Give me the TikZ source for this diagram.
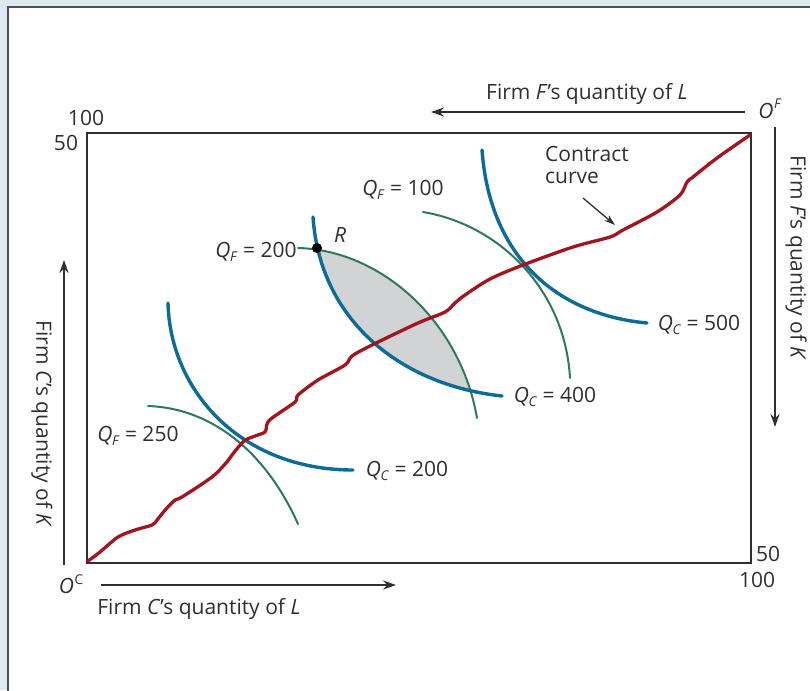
\documentclass[tikz,border=0pt]{standalone}
\usepackage{fontspec}
\setmainfont{Open Sans}
\usetikzlibrary{arrows.meta}
\definecolor{bgc}{HTML}{DFE9EF}
\definecolor{framec}{HTML}{4A4F52}
\definecolor{ink}{HTML}{2F2F2F}
\definecolor{ccred}{HTML}{A3141E}
\definecolor{qcblue}{HTML}{0C6B97}
\definecolor{qfgreen}{HTML}{2E7A58}
\definecolor{lens}{HTML}{D2D3D5}
\newcommand\Qlab[2]{\textit{Q}\kern-0.5pt\raisebox{-0.35ex}{\fontsize{13.5}{12}\selectfont\textit{#1}} = #2}
\newcommand\Orig[1]{\textit{O}\kern0.5pt\raisebox{0.85ex}{\fontsize{13.5}{12}\selectfont #1}}
\tikzset{
  lab/.style={text=ink, font=\fontsize{21}{25}\selectfont, inner sep=0pt},
  axisarrow/.style={draw=ink, line width=2.6pt, -{Stealth[length=13pt,width=9pt]}},
  ccurve/.style={draw=ccred, line width=3.3pt, line cap=round, line join=round},
  qc/.style={draw=qcblue, line width=3.4pt, line cap=round},
  qf/.style={draw=qfgreen, line width=2pt, line cap=round},
}
\begin{document}
\begin{tikzpicture}[x=1pt,y=-1pt]
\useasboundingbox (0,0) rectangle (810,690);
\fill[bgc] (0,0) rectangle (810,690);
\fill[white] (8,7) rectangle (815,695);
\draw[framec, line width=1.3pt] (8,695) -- (8,7) -- (815,7);

% lens fill
\begin{scope}
\clip (298,248) .. controls (380,250) and (460,320) .. (477,418) -- (477,520) -- (200,520) -- (200,248) -- cycle;
\fill[lens] (313,217) .. controls (320,320) and (400,385) .. (502,396) -- (620,396) -- (620,150) -- (313,150) -- cycle;
\end{scope}

% box
\draw[ink, line width=1.5pt] (87,133) rectangle (751,563);

% isoquants
\draw[qf] (298,248) .. controls (380,250) and (460,320) .. (477,418);
\draw[qc] (313,217) .. controls (320,320) and (400,385) .. (502,396);

\draw[qc] (168,303) .. controls (170,390) and (240,470) .. (353,470);
\draw[qf] (148,406) .. controls (210,408) and (265,450) .. (298,524);

\draw[qf] (423,212) .. controls (500,225) and (565,290) .. (570,378);
\draw[qc] (482,150) .. controls (490,260) and (560,315) .. (647,323);

% contract curve
\draw[ccurve] plot[smooth, tension=0.5] coordinates {(88,561) (100,552) (118,537) (135,530) (152,525) (157,520) (166,509) (175,500) (182,497) (212,477) (226,463) (232,455) (244,441) (255,436) (265,432) (267,424) (272,418) (295,402) (298,395) (318,380) (345,365) (352,356) (372,345) (418,323) (445,312) (455,303) (465,295) (490,279) (523,265) (573,247) (610,237) (623,230) (657,212) (680,195) (687,182) (693,177) (717,158) (750,135)};

% point R
\node[circle, fill=black, inner sep=0pt, minimum size=10pt] (R) at (317,248) {};
\node[lab] (Rl) at (340,235) {\textit{R}};

% labels
\node[lab] (qf100) at (403,190) {\Qlab{F}{100}};
\node[lab] (qf200) at (256,252) {\Qlab{F}{200}};
\node[lab] (qf250) at (138,436) {\Qlab{F}{250}};
\node[lab] (qc200) at (407,471) {\Qlab{C}{200}};
\node[lab] (qc400) at (555,397) {\Qlab{C}{400}};
\node[lab] (qc500) at (699,325) {\Qlab{C}{500}};

\node[lab, align=left, anchor=north west] (cc) at (545,146) {Contract\\[-3pt]curve};
\coordinate (cca) at (583,198);
\coordinate (ccb) at (615,225);
\draw[ink, line width=1.3pt, -{Stealth[length=11pt,width=7pt]}] (cca) -- (ccb);

% scale numbers
\node[lab] (n100a) at (86,118) {100};
\node[lab] (n50a) at (66,143) {50};
\node[lab] (n50b) at (768,554) {50};
\node[lab] (n100b) at (757,580) {100};

% origins
\node[lab] (OC) at (71,584) {\Orig{C}};
\node[lab] (OF) at (770,109) {\Orig{\textit{F}}};

% axis arrows
\coordinate (b1) at (101,585); \coordinate (b2) at (396,585);
\draw[axisarrow] (b1) -- (b2);
\node[lab] (bl) at (199,609) {Firm \textit{C}’s quantity of \textit{L}};

\coordinate (t1) at (745,112); \coordinate (t2) at (431,112);
\draw[axisarrow] (t1) -- (t2);
\node[lab] (tl) at (587,94) {Firm \textit{F}’s quantity of \textit{L}};

\coordinate (l1) at (64,565); \coordinate (l2) at (64,260);
\draw[axisarrow] (l1) -- (l2);
\node[lab, rotate=-90] (ll) at (42,424) {Firm \textit{C}’s quantity of \textit{K}};

\coordinate (r1) at (775,127); \coordinate (r2) at (775,427);
\draw[axisarrow] (r1) -- (r2);
\node[lab, rotate=-90] (rl) at (796,258) {Firm \textit{F}’s quantity of \textit{K}};
\end{tikzpicture}
\end{document}
